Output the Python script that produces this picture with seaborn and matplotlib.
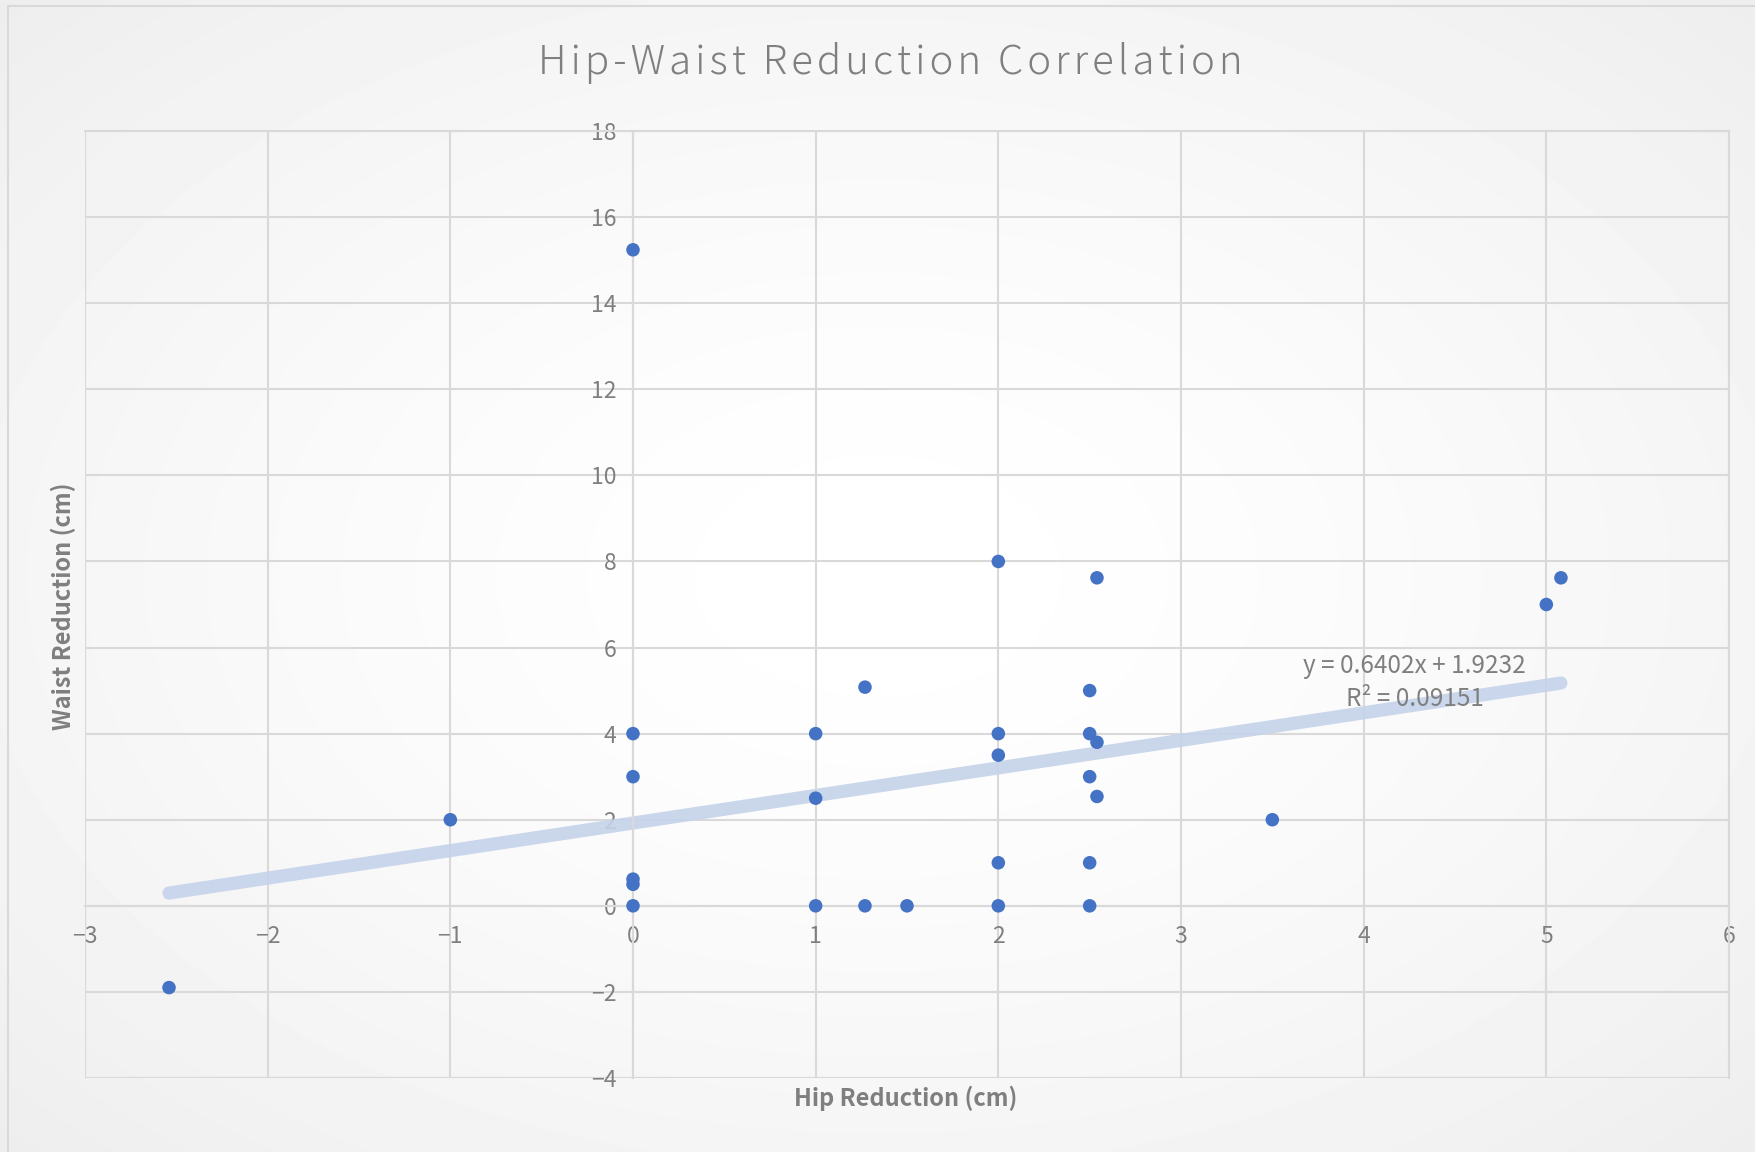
import numpy as np
import pandas as pd
import matplotlib
matplotlib.use("Agg")
import matplotlib.pyplot as plt
import seaborn as sns
from matplotlib.patches import Rectangle

# --- Data ---
hip_reduction = [0, 2, 2.54, 5.08, 5, 1.27, 2.5, 0, 1, 2, 2.5, 2.54, 2, 0, 2.5,
                 1, 2.54, -1, 3.5, 2, 2.5, 0, 0, 0, 1, 1.27, 1.5, 2, 2.5, -2.54]
waist_reduction = [15.24, 8, 7.62, 7.62, 7, 5.08, 5, 4, 4, 4, 4, 3.8, 3.5, 3, 3,
                   2.5, 2.54, 2, 2, 1, 1, 0.62, 0.5, 0, 0, 0, 0, 0, 0, -1.9]
trend_slope = 0.6402
trend_intercept = 1.9232
trend_r2 = 0.09151

x_ticks = list(range(-3, 7))
y_ticks = list(range(-4, 19, 2))

df = pd.DataFrame({"hip": hip_reduction, "waist": waist_reduction})

# --- Style ---
sns.set_theme(style="white")
plt.rcParams['font.family'] = ['Noto Sans CJK JP', 'DejaVu Sans']
TEXT_GRAY = "#7f7f7f"
GRID = "#d9d9d9"

fig = plt.figure(figsize=(17.55, 11.52), dpi=100)

# radial background gradient
bg = fig.add_axes([0, 0, 1, 1], zorder=-10)
yy, xx = np.mgrid[0:1:300j, 0:1:450j]
r = np.sqrt(((xx - 0.5) / 0.75) ** 2 + ((yy - 0.5) / 0.75) ** 2)
bg.imshow(1 - 0.075 * np.clip(r, 0, 1) ** 1.5, cmap="gray", vmin=0, vmax=1,
          extent=[0, 1, 0, 1], aspect="auto", interpolation="bilinear")
bg.axis("off")
fig.patches.append(Rectangle((8 / 1755, -0.1), 1.2, 1 - 6 / 1152 + 0.1,
                             transform=fig.transFigure, fill=False,
                             edgecolor=GRID, linewidth=1.5))

ax = fig.add_axes([85 / 1755, 1 - 1078 / 1152, (1729 - 85) / 1755, (1078 - 131) / 1152])
ax.set_facecolor("none")

# trendline
x_line = np.array([min(hip_reduction), max(hip_reduction)])
trend_df = pd.DataFrame({"x": x_line, "y": trend_slope * x_line + trend_intercept})
sns.lineplot(data=trend_df, x="x", y="y", ax=ax, color="#c5d3ea", linewidth=9.5,
             solid_capstyle="round", alpha=0.9, zorder=2)

sns.scatterplot(data=df, x="hip", y="waist", ax=ax, color="#4472c4", s=95,
                edgecolor="none", zorder=3)

ax.set_xlim(-3, 6)
ax.set_ylim(-4, 18)
ax.set_xticks(x_ticks)
ax.set_yticks(y_ticks)
ax.grid(True, color=GRID, linewidth=1.5)
ax.set_axisbelow(True)
for side in ["top", "right"]:
    ax.spines[side].set_color(GRID)
    ax.spines[side].set_linewidth(1.5)
ax.spines["left"].set_position(("data", 0))
ax.spines["bottom"].set_position(("data", 0))
for side in ["left", "bottom"]:
    ax.spines[side].set_color(GRID)
    ax.spines[side].set_linewidth(1.5)
ax.tick_params(axis="both", length=0, labelsize=16.5, labelcolor=TEXT_GRAY)
ax.tick_params(axis="x", pad=14)
ax.tick_params(axis="y", pad=12)
ax.set_xlabel("")
ax.set_ylabel("")

# outer gridlines at plot edges
ax.axvline(-3, color=GRID, linewidth=1.5, zorder=0)
ax.axhline(-4, color=GRID, linewidth=1.5, zorder=0)

ax.text(4.28, 5.18, f"y = {trend_slope}x + {trend_intercept}\nR² = {trend_r2}",
        ha="center", va="center", multialignment="center", fontsize=17.5,
        color=TEXT_GRAY, linespacing=1.35, zorder=4)

title = "\u200a".join("Hip-Waist Reduction Correlation")
fig.text(890 / 1755, 1 - 63 / 1152, title, ha="center", va="center",
         fontsize=29, fontweight="light", color=TEXT_GRAY)
fig.text(906 / 1755, 1 - 1098 / 1152, "Hip Reduction (cm)", ha="center",
         va="center", fontsize=17, fontweight="bold", color=TEXT_GRAY)
fig.text(63 / 1755, 1 - 606 / 1152, "Waist Reduction (cm)", ha="center",
         va="center", rotation=90, fontsize=17, fontweight="bold", color=TEXT_GRAY)

fig.savefig("out.png", dpi=100)
